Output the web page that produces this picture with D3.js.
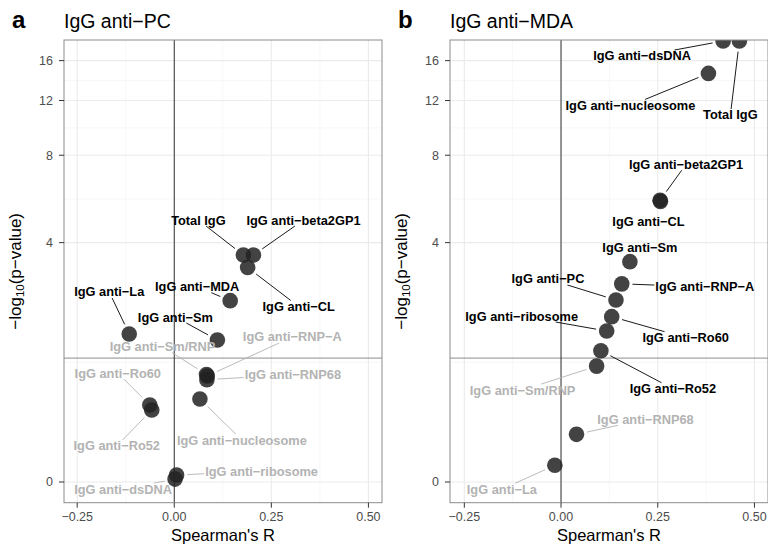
<!DOCTYPE html>
<html>
<head>
<meta charset="utf-8">
<script src="https://cdn.jsdelivr.net/npm/d3@7"></script>
<style>
  body { margin: 0; background: #fff; }
  text { font-family: "Liberation Sans", Arial, sans-serif; }
</style>
</head>
<body>
<svg id="chart" width="768" height="544"></svg>
<script>
// ---- panel a: IgG anti-PC ----
var pc_names = ["Total IgG", "IgG anti\u2212beta2GP1", "IgG anti\u2212CL", "IgG anti\u2212MDA",
    "IgG anti\u2212La", "IgG anti\u2212Sm", "IgG anti\u2212Sm/RNP", "IgG anti\u2212RNP\u2212A",
    "IgG anti\u2212RNP68", "IgG anti\u2212Ro60", "IgG anti\u2212Ro52", "IgG anti\u2212nucleosome",
    "IgG anti\u2212ribosome", "IgG anti\u2212dsDNA"]
var pc_r    = [0.178, 0.204, 0.189, 0.144, -0.116, 0.111, 0.083, 0.085, 0.084, -0.063, -0.058, 0.066, 0.006, 0.002]
var pc_logp = [3.60, 3.60, 3.23, 2.385, 1.706, 1.598, 1.06, 1.04, 0.99, 0.678, 0.623, 0.747, 0.048, 0.02]

// ---- panel b: IgG anti-MDA ----
var mda_names = ["IgG anti\u2212dsDNA", "Total IgG", "IgG anti\u2212nucleosome", "IgG anti\u2212beta2GP1",
    "IgG anti\u2212CL", "IgG anti\u2212Sm", "IgG anti\u2212RNP\u2212A", "IgG anti\u2212PC",
    "IgG anti\u2212Ro60", "IgG anti\u2212ribosome", "IgG anti\u2212Ro52", "IgG anti\u2212Sm/RNP",
    "IgG anti\u2212RNP68", "IgG anti\u2212La"]
var mda_r    = [0.419, 0.461, 0.381, 0.256, 0.257, 0.178, 0.157, 0.142, 0.131, 0.118, 0.103, 0.092, 0.040, -0.016]
var mda_logp = [18.4, 18.4, 14.6, 5.65, 5.6, 3.40, 2.79, 2.40, 2.04, 1.76, 1.418, 1.18, 0.378, 0.119]

var x_ticks = [-0.25, 0, 0.25, 0.5]
var x_minor = [-0.125, 0.125, 0.375]
var y_ticks = [0, 4, 8, 12, 16]
var sig_cut = -Math.log10(0.05)

// label offsets from the point (pixels, like ggrepel placed them)
var pc_lab_dx = [-45, 50, 51, -33, -20, -42, -44, 85, 86, -32, -35, 42, 85, -52]
var pc_lab_dy = [-35, -35, 39, -14, -42, -23, -28, -39, -5, -32, 36, 41, -4, 10]
var mda_lab_dx = [-81, -9, -78, 26, -12, 10, 83, -68, 74, -85, 72, -74, 69, -53]
var mda_lab_dy = [15, 74, 32, -36, 20, -14, 3, -21, 21, -15, 38, 24, -15, 24]

var svg = d3.select("#chart")
var top_y = 40, bottom_y = 502.7

function tr(v) { return Math.log1p(v) }

function build_panel(opt) {
    var x = d3.scaleLinear().domain(opt.xdom).range([opt.left, opt.right])
    var y = d3.scaleLinear().domain([-0.139, 2.972]).range([bottom_y, top_y])
    var g = svg.append("g")

    var clipId = "clip" + opt.tag
    svg.append("clipPath").attr("id", clipId)
        .append("rect").attr("x", opt.left).attr("y", top_y)
        .attr("width", opt.right - opt.left).attr("height", bottom_y - top_y)

    // grid
    var y_minor = []
    for (var i = 0; i < y_ticks.length - 1; i++) {
        y_minor.push((tr(y_ticks[i]) + tr(y_ticks[i + 1])) / 2)
    }
    g.selectAll(".ymin").data(y_minor).enter().append("line")
        .attr("x1", opt.left).attr("x2", opt.right)
        .attr("y1", d => y(d)).attr("y2", d => y(d))
        .attr("stroke", "#f2f2f2").attr("stroke-width", 0.6)
    g.selectAll(".xmin").data(x_minor).enter().append("line")
        .attr("x1", d => x(d)).attr("x2", d => x(d))
        .attr("y1", top_y).attr("y2", bottom_y)
        .attr("stroke", "#f2f2f2").attr("stroke-width", 0.6)
    g.selectAll(".ymaj").data(y_ticks).enter().append("line")
        .attr("x1", opt.left).attr("x2", opt.right)
        .attr("y1", d => y(tr(d))).attr("y2", d => y(tr(d)))
        .attr("stroke", "#ebebeb").attr("stroke-width", 1.1)
    g.selectAll(".xmaj").data(x_ticks).enter().append("line")
        .attr("x1", d => x(d)).attr("x2", d => x(d))
        .attr("y1", top_y).attr("y2", bottom_y)
        .attr("stroke", "#ebebeb").attr("stroke-width", 1.1)

    // reference lines
    g.append("line").attr("x1", opt.left).attr("x2", opt.right)
        .attr("y1", y(tr(sig_cut))).attr("y2", y(tr(sig_cut)))
        .attr("stroke", "#8c8c8c").attr("stroke-width", 1)
    g.append("line").attr("x1", x(0)).attr("x2", x(0))
        .attr("y1", top_y).attr("y2", bottom_y)
        .attr("stroke", "#333").attr("stroke-width", 1)

    // points + labels
    var data = opt.names.map(function(n, i) {
        return {name: n, r: opt.r[i], p: opt.logp[i], dx: opt.dx[i], dy: opt.dy[i]}
    })

    var pts = g.append("g").attr("clip-path", "url(#" + clipId + ")")
    pts.selectAll("circle").data(data).enter().append("circle")
        .attr("cx", d => x(d.r)).attr("cy", d => y(tr(d.p)))
        .attr("r", 7.8)
        .attr("fill", "#222").attr("fill-opacity", 0.85)

    var labs = g.append("g")
    data.forEach(function(d) {
        var px = x(d.r), py = y(tr(d.p))
        var lx = px + d.dx, ly = py + d.dy
        var sig = d.p > sig_cut
        var col = sig ? "#000" : "#b3b3b3"
        var t = labs.append("text")
            .attr("x", lx).attr("y", ly)
            .attr("dy", "0.35em")
            .attr("text-anchor", "middle")
            .attr("font-size", "12.8px")
            .attr("font-weight", "bold")
            .attr("fill", col)
            .text(d.name)
        var bb = t.node().getBBox()
        var hw = bb.width / 2 + 1, hh = 6
        // segment from the box edge toward the point
        var vx = px - lx, vy = py - ly
        var tx = vx !== 0 ? hw / Math.abs(vx) : Infinity
        var ty = vy !== 0 ? hh / Math.abs(vy) : Infinity
        var tt = Math.min(tx, ty)
        if (tt >= 1) return
        var sx = lx + vx * tt, sy = ly + vy * tt
        var len = Math.hypot(px - sx, py - sy)
        var ex = px - (px - sx) / len * 10.7, ey = py - (py - sy) / len * 10.7
        if (len - 10.7 < 6) return
        labs.insert("line", "text")
            .attr("x1", sx).attr("y1", sy).attr("x2", ex).attr("y2", ey)
            .attr("stroke", col).attr("stroke-width", 0.9)
    })

    // panel border
    g.append("rect").attr("x", opt.left).attr("y", top_y)
        .attr("width", opt.right - opt.left).attr("height", bottom_y - top_y)
        .attr("fill", "none").attr("stroke", "#8c8c8c").attr("stroke-width", 1)

    // axes
    var yAxis = g.append("g").attr("transform", "translate(" + opt.left + ",0)")
    yAxis.selectAll("line").data(y_ticks).enter().append("line")
        .attr("x1", -5).attr("x2", 0)
        .attr("y1", d => y(tr(d))).attr("y2", d => y(tr(d)))
        .attr("stroke", "#333").attr("stroke-width", 1)
    yAxis.selectAll("text").data(y_ticks).enter().append("text")
        .attr("x", -11).attr("y", d => y(tr(d))).attr("dy", "0.35em")
        .attr("text-anchor", "end").attr("font-size", "12.5px").attr("fill", "#4d4d4d")
        .text(d => d)

    var fmt = d3.format(".2f")
    var xAxis = g.append("g").attr("transform", "translate(0," + bottom_y + ")")
    xAxis.selectAll("line").data(x_ticks).enter().append("line")
        .attr("x1", d => x(d)).attr("x2", d => x(d))
        .attr("y1", 0).attr("y2", 5)
        .attr("stroke", "#333").attr("stroke-width", 1)
    xAxis.selectAll("text").data(x_ticks).enter().append("text")
        .attr("x", d => x(d)).attr("y", 13.5).attr("dy", "0.35em")
        .attr("text-anchor", "middle").attr("font-size", "12.5px").attr("fill", "#4d4d4d")
        .text(d => fmt(d).replace("-", "\u2212"))

    // axis titles
    svg.append("text")
        .attr("x", (opt.left + opt.right) / 2).attr("y", 541)
        .attr("text-anchor", "middle").attr("font-size", "16.5px").attr("fill", "#000")
        .text("Spearman's R")

    var yt = svg.append("text")
        .attr("transform", "translate(" + (opt.left - 43) + "," + ((top_y + bottom_y) / 2) + ") rotate(-90)")
        .attr("text-anchor", "middle").attr("font-size", "17px").attr("fill", "#000")
    yt.append("tspan").text("\u2212log")
    yt.append("tspan").attr("font-size", "11.5px").attr("dy", 3).text("10")
    yt.append("tspan").attr("dy", -3).text("(p\u2212value)")

    // title + tag
    svg.append("text").attr("x", opt.left).attr("y", 28)
        .attr("font-size", "19.5px").attr("fill", "#000").text(opt.title)
    svg.append("text").attr("x", opt.left - 52).attr("y", 28)
        .attr("font-size", "24px").attr("font-weight", "bold").attr("fill", "#000").text(opt.tag)
}

build_panel({tag: "a", title: "IgG anti\u2212PC", left: 64, right: 382, xdom: [-0.284, 0.535],
    names: pc_names, r: pc_r, logp: pc_logp, dx: pc_lab_dx, dy: pc_lab_dy})
build_panel({tag: "b", title: "IgG anti\u2212MDA", left: 450, right: 768, xdom: [-0.287, 0.535],
    names: mda_names, r: mda_r, logp: mda_logp, dx: mda_lab_dx, dy: mda_lab_dy})
</script>
</body>
</html>
